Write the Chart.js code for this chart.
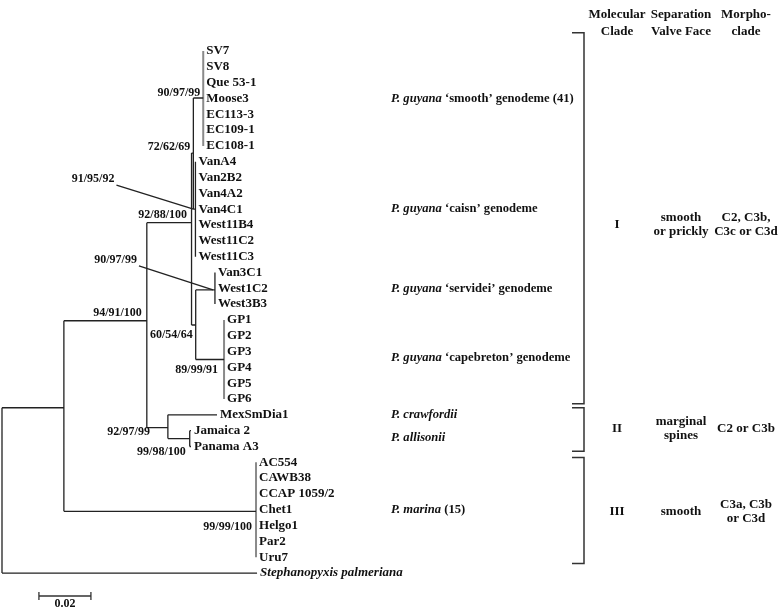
<!DOCTYPE html>
<html>
<head>
<meta charset="utf-8">
<script src="https://cdn.jsdelivr.net/npm/chart.js@4.4.1/dist/chart.umd.min.js"></script>
<style>
  body { margin: 0; background: #fff; }
  #wrap { width: 778px; height: 609px; }
</style>
</head>
<body>
<div id="wrap"><canvas id="tree" width="778" height="609"></canvas></div>
<script>
// Leaves (top to bottom), their parent node and tip distance
var leafNames = ['SV7', 'SV8', 'Que 53-1', 'Moose3', 'EC113-3', 'EC109-1', 'EC108-1',
  'VanA4', 'Van2B2', 'Van4A2', 'Van4C1', 'West11B4', 'West11C2', 'West11C3',
  'Van3C1', 'West1C2', 'West3B3',
  'GP1', 'GP2', 'GP3', 'GP4', 'GP5', 'GP6',
  'MexSmDia1', 'Jamaica 2', 'Panama A3',
  'AC554', 'CAWB38', 'CCAP 1059/2', 'Chet1', 'Helgo1', 'Par2', 'Uru7',
  'Stephanopyxis palmeriana'];
var leafParent = ['S', 'S', 'S', 'S', 'S', 'S', 'S',
  'K', 'K', 'K', 'K', 'K', 'K', 'K',
  'V', 'V', 'V',
  'G', 'G', 'G', 'G', 'G', 'G',
  'F', 'J', 'J',
  'M', 'M', 'M', 'M', 'M', 'M', 'M',
  'root'];
var leafDepth = [0.0774, 0.0774, 0.0774, 0.0774, 0.0774, 0.0774, 0.0774,
  0.0744, 0.0744, 0.0744, 0.0744, 0.0744, 0.0744, 0.0744,
  0.0819, 0.0819, 0.0819,
  0.0854, 0.0854, 0.0854, 0.0854, 0.0854, 0.0854,
  0.0827, 0.0727, 0.0727,
  0.0977, 0.0977, 0.0977, 0.0977, 0.0977, 0.0977, 0.0977,
  0.0981];

// Internal nodes
var nodeNames  = ['root', 'A', 'B', 'C', 'E', 'S', 'K', 'D', 'V', 'G', 'F', 'J', 'M'];
var nodeParent = [null, 'root', 'A', 'B', 'C', 'E', 'E', 'C', 'D', 'D', 'B', 'F', 'A'];
var nodeDepth  = [0, 0.0238, 0.0557, 0.0729, 0.0736, 0.0774, 0.0744, 0.0745, 0.0819, 0.0854, 0.0638, 0.0722, 0.0977];
var nodeRow    = [27.8, 22.55, 17.05, 10.85, 6.45, 2.97, 10, 17.32, 15.1, 19.5, 23.81, 24.5, 29.1];

// bootstrap support values
var supportNode  = ['S', 'E', 'K', 'C', 'V', 'B', 'D', 'G', 'F', 'J', 'M'];
var supportValue = ['90/97/99', '72/62/69', '91/95/92', '92/88/100', '90/97/99', '94/91/100',
  '60/54/64', '89/99/91', '92/97/99', '99/98/100', '99/99/100'];

// species / genodeme labels, at leaf rows
var speciesRow   = [3, 10, 15, 19.4, 23, 24.45, 29];
var speciesItal  = ['P. guyana', 'P. guyana', 'P. guyana', 'P. guyana', 'P. crawfordii', 'P. allisonii', 'P. marina'];
var speciesRest  = [' \u2018smooth\u2019 genodeme (41)', ' \u2018caisn\u2019 genodeme', ' \u2018servidei\u2019 genodeme',
  ' \u2018capebreton\u2019 genodeme', '', '', ' (15)'];

// right hand table
var tableHeads   = [['Molecular', 'Clade'], ['Separation', 'Valve Face'], ['Morpho-', 'clade']];
var cladeNames   = ['I', 'II', 'III'];
var cladeValve   = [['smooth', 'or prickly'], ['marginal', 'spines'], ['smooth']];
var cladeMorpho  = [['C2, C3b,', 'C3c or C3d'], ['C2 or C3b'], ['C3a, C3b', 'or C3d']];
var cladeSpan    = [[-1.15, 22.3], [22.55, 25.3], [25.7, 32.4]];
var cladeRow     = [10.95, 23.9, 29.1];

var scaleBar = 0.02;

// ---- layout / style ----
var PX_PER_UNIT = 2600, ROW_PX = 15.82, TOP_PX = 51, LEFT_PX = 2;
var W = 778, H = 609;
var SERIF = '"Liberation Serif", "Times New Roman", serif';
var supportPlace = {
  S: [-3, -5], E: [-3, -6], K: [-81, -30], C: [-4.5, -8], V: [-78, -30], B: [-5, -8],
  D: [-3, 10], G: [-6, 10], F: [-18, 4], J: [-4, 13], M: [-4, 16]
};
var leaderNodes = { K: true, V: true };
var grayVerticals = { S: true, G: true, M: true };

function nodeInfo(name) {
  var i = nodeNames.indexOf(name);
  return { x: nodeDepth[i], y: nodeRow[i] };
}

// build branch segments (line datasets, broken with null points)
var darkSeg = [], graySeg = [];
function seg(arr, x1, y1, x2, y2) {
  arr.push({ x: x1, y: y1 }, { x: x2, y: y2 }, { x: x2, y: null });
}
nodeNames.forEach(function(n, i) {
  var kids = [];
  nodeNames.forEach(function(m, j) { if (nodeParent[j] === n) kids.push(nodeRow[j]); });
  leafParent.forEach(function(p, j) { if (p === n) kids.push(j); });
  var lo = Math.min.apply(null, kids), hi = Math.max.apply(null, kids);
  seg(grayVerticals[n] ? graySeg : darkSeg, nodeDepth[i], lo, nodeDepth[i], hi);
  if (nodeParent[i]) {
    var p = nodeInfo(nodeParent[i]);
    seg(darkSeg, p.x, nodeRow[i], nodeDepth[i], nodeRow[i]);
  }
});
leafNames.forEach(function(l, j) {
  var p = nodeInfo(leafParent[j]);
  if (leafDepth[j] > p.x) seg(darkSeg, p.x, j, leafDepth[j], j);
});

function font(size, italic) {
  return (italic ? 'italic ' : '') + 'bold ' + size + 'px ' + SERIF;
}

var treeText = {
  id: 'treeText',
  afterDatasetsDraw: function(chart) {
    var ctx = chart.ctx, xs = chart.scales.x, ys = chart.scales.y;
    ctx.save();
    ctx.fillStyle = '#111';
    ctx.textBaseline = 'middle';

    // leaf labels
    leafNames.forEach(function(l, j) {
      ctx.font = font(13, j === leafNames.length - 1);
      ctx.textAlign = 'left';
      ctx.fillText(l, xs.getPixelForValue(leafDepth[j]) + 3, ys.getPixelForValue(j));
    });

    // support values
    ctx.font = font(12, false);
    ctx.textAlign = 'right';
    supportNode.forEach(function(n, k) {
      var nd = nodeInfo(n), off = supportPlace[n];
      var px = xs.getPixelForValue(nd.x), py = ys.getPixelForValue(nd.y);
      ctx.fillText(supportValue[k], px + off[0], py + off[1]);
      if (leaderNodes[n]) {
        ctx.strokeStyle = '#222';
        ctx.lineWidth = 1.3;
        ctx.beginPath();
        ctx.moveTo(px + off[0] + 2, py + off[1] + 6);
        ctx.lineTo(px - 2, py);
        ctx.stroke();
      }
    });

    // species labels
    ctx.textAlign = 'left';
    speciesRow.forEach(function(r, k) {
      var y = ys.getPixelForValue(r), x = 391;
      ctx.font = font(12.6, true);
      ctx.fillText(speciesItal[k], x, y);
      x += ctx.measureText(speciesItal[k]).width;
      ctx.font = font(12.6, false);
      ctx.fillText(speciesRest[k], x, y);
    });

    // brackets
    ctx.strokeStyle = '#333';
    ctx.lineWidth = 1.5;
    cladeSpan.forEach(function(s) {
      var y1 = ys.getPixelForValue(s[0]), y2 = ys.getPixelForValue(s[1]);
      ctx.beginPath();
      ctx.moveTo(572, y1); ctx.lineTo(584, y1); ctx.lineTo(584, y2); ctx.lineTo(572, y2);
      ctx.stroke();
    });

    // table
    var colX = [617, 681, 746];
    ctx.textAlign = 'center';
    ctx.font = font(13, false);
    tableHeads.forEach(function(h, c) {
      ctx.fillText(h[0], colX[c], 15);
      ctx.fillText(h[1], colX[c], 32);
    });
    function stack(lines, x, y) {
      var gap = 14, y0 = y - (lines.length - 1) * gap / 2;
      lines.forEach(function(t, i) { ctx.fillText(t, x, y0 + i * gap); });
    }
    cladeNames.forEach(function(n, k) {
      var y = ys.getPixelForValue(cladeRow[k]);
      ctx.fillText(n, colX[0], y);
      stack(cladeValve[k], colX[1], y);
      stack(cladeMorpho[k], colX[2], y);
    });

    // scale bar
    var sx1 = xs.getPixelForValue(0.0142), sx2 = xs.getPixelForValue(0.0142 + scaleBar);
    ctx.strokeStyle = '#333';
    ctx.lineWidth = 1.3;
    ctx.beginPath();
    ctx.moveTo(sx1, 596); ctx.lineTo(sx2, 596);
    ctx.moveTo(sx1, 592); ctx.lineTo(sx1, 600);
    ctx.moveTo(sx2, 592); ctx.lineTo(sx2, 600);
    ctx.stroke();
    ctx.font = font(12, false);
    ctx.fillText(String(scaleBar), (sx1 + sx2) / 2, 604);
    ctx.restore();
  }
};

new Chart(document.getElementById('tree'), {
  type: 'line',
  data: {
    datasets: [
      { data: darkSeg, borderColor: '#222', borderWidth: 1.3, pointRadius: 0, spanGaps: false, tension: 0 },
      { data: graySeg, borderColor: '#8a8a8a', borderWidth: 2, pointRadius: 0, spanGaps: false, tension: 0 }
    ]
  },
  options: {
    responsive: false,
    animation: false,
    events: [],
    layout: { padding: 0 },
    plugins: { legend: { display: false }, tooltip: { enabled: false } },
    scales: {
      x: { type: 'linear', display: false, min: -LEFT_PX / PX_PER_UNIT, max: (W - LEFT_PX) / PX_PER_UNIT },
      y: { type: 'linear', display: false, reverse: true,
           min: -TOP_PX / ROW_PX, max: (H - TOP_PX) / ROW_PX }
    }
  },
  plugins: [treeText]
});
</script>
</body>
</html>
